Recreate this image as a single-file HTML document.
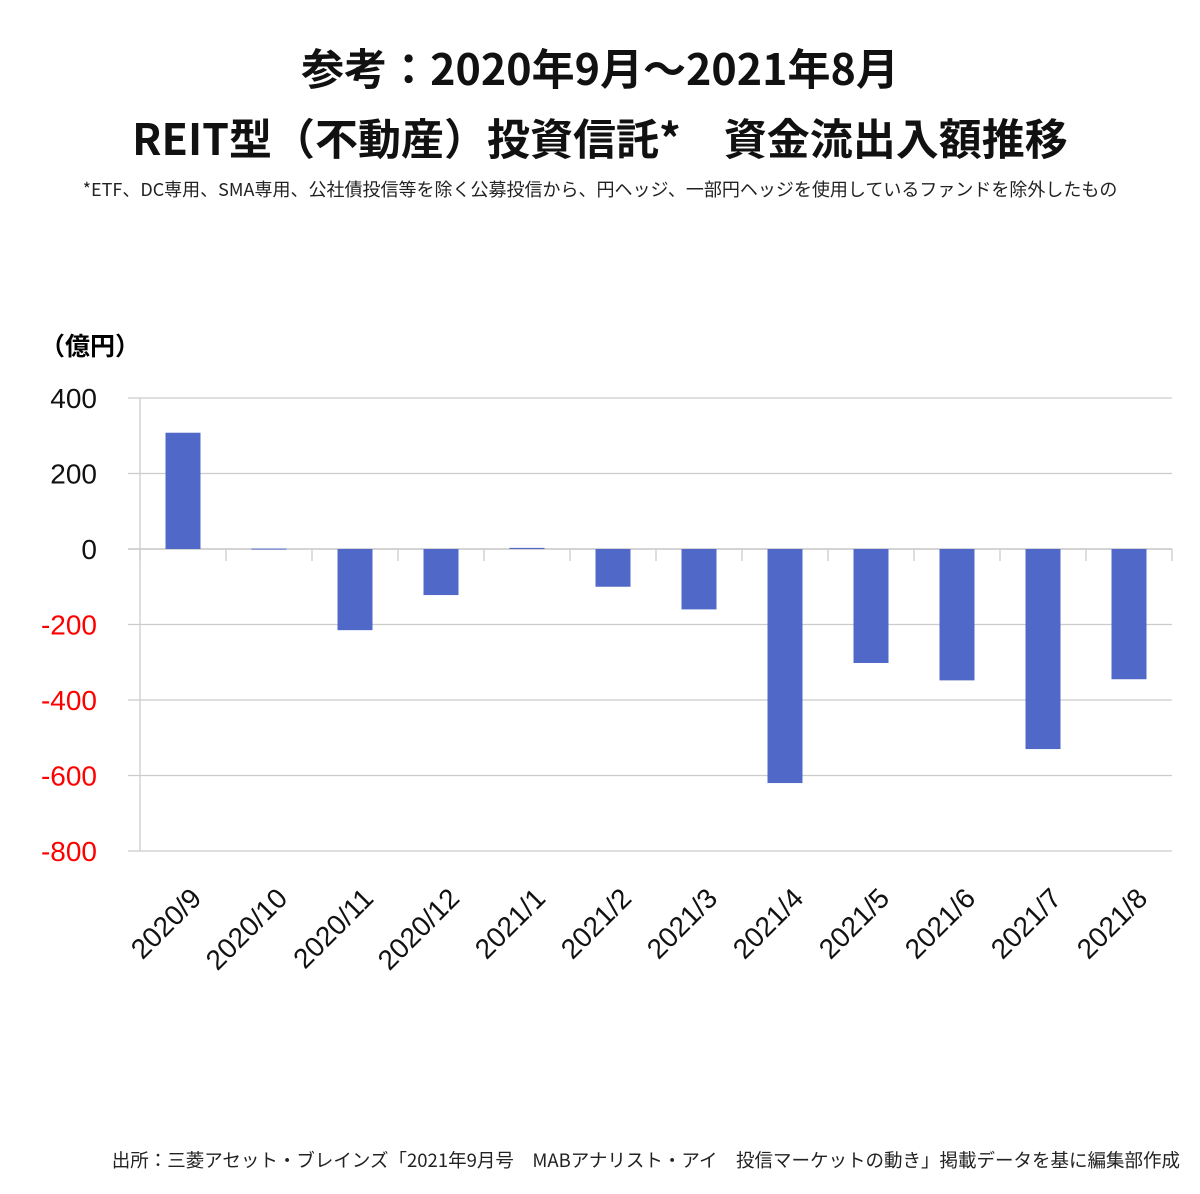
<!DOCTYPE html>
<html><head><meta charset="utf-8"><style>
body{margin:0;background:#fff;width:1200px;height:1194px;overflow:hidden;font-family:"Liberation Sans","Noto Sans CJK JP",sans-serif}
.t{position:absolute;left:0;width:1200px;text-align:center;font-weight:bold;color:#111;font-family:"Noto Sans CJK JP","Liberation Sans",sans-serif}
</style></head><body>
<div class="t" style="top:36px;font-size:43px">参考：2020年9月～2021年8月</div>
<div class="t" style="top:106px;font-size:43px">REIT型（不動産）投資信託*　資金流出入額推移</div>
<div class="t" style="top:176px;font-size:18px;font-weight:normal;color:#222">*ETF、DC専用、SMA専用、公社債投信等を除く公募投信から、円ヘッジ、一部円ヘッジを使用しているファンドを除外したもの</div>
<div style="position:absolute;left:40px;top:327px;font-size:25px;font-weight:bold;font-family:'Noto Sans CJK JP',sans-serif">（億円）</div>
<div style="position:absolute;right:20px;top:1147px;font-size:18.5px;color:#222;font-family:'Noto Sans CJK JP',sans-serif;white-space:nowrap">出所：三菱アセット・ブレインズ「2021年9月号　MABアナリスト・アイ　投信マーケットの動き」掲載データを基に編集部作成</div>
<svg id="c" width="1200" height="1194" style="position:absolute;left:0;top:0"></svg>
<script>
const categories=["2020/9","2020/10","2020/11","2020/12","2021/1","2021/2","2021/3","2021/4","2021/5","2021/6","2021/7","2021/8"];
const values=[308,1,-215,-122,3,-100,-160,-620,-302,-348,-530,-345];
const ticks=[400,200,0,-200,-400,-600,-800];
const svg=document.getElementById('c');const NS="http://www.w3.org/2000/svg";
const x0=140,x1=1172,yTop=398,yBot=851,vMax=400,vMin=-800;
const y=v=>yTop+(vMax-v)/(vMax-vMin)*(yBot-yTop);
const bw=(x1-x0)/categories.length;
function mk(t,a){const e=document.createElementNS(NS,t);for(const k in a)e.setAttribute(k,a[k]);svg.appendChild(e);return e;}
ticks.forEach(v=>{
 const l=mk('line',{x1:128,x2:x1,y1:y(v),y2:y(v),stroke:v===0?'#bbb':'#ccc','stroke-width':1.3});
 
 
 const t=mk('text',{x:97,y:y(v)+10,'text-anchor':'end','font-size':28,fill:v<0?'#ff0000':'#111','font-family':'Liberation Sans, sans-serif'});
 t.textContent=v;
 
 
});
const ax=mk('line',{x1:x0,x2:x0,y1:yTop,y2:yBot,stroke:'#ccc','stroke-width':1.3});


for(let i=0;i<=categories.length;i++){
 const tk=mk('line',{x1:x0+i*bw,x2:x0+i*bw,y1:y(0),y2:y(0)+12,stroke:'#ccc','stroke-width':1.3});
 
 
}
categories.forEach((c,i)=>{
 const cx=x0+i*bw+bw/2,v=values[i];
 const r=mk('rect',{x:cx-17.5,width:35,y:Math.min(y(v),y(0)),height:Math.max(Math.abs(y(v)-y(0)),1),fill:'#5068c8'});
 
 
 const t=mk('text',{x:cx+20,y:900,'text-anchor':'end','font-size':28,fill:'#111','font-family':'Liberation Sans, sans-serif',transform:`rotate(-45 ${cx+20} 900)`});
 t.textContent=c;
 
 
});
</script>
</body></html>
